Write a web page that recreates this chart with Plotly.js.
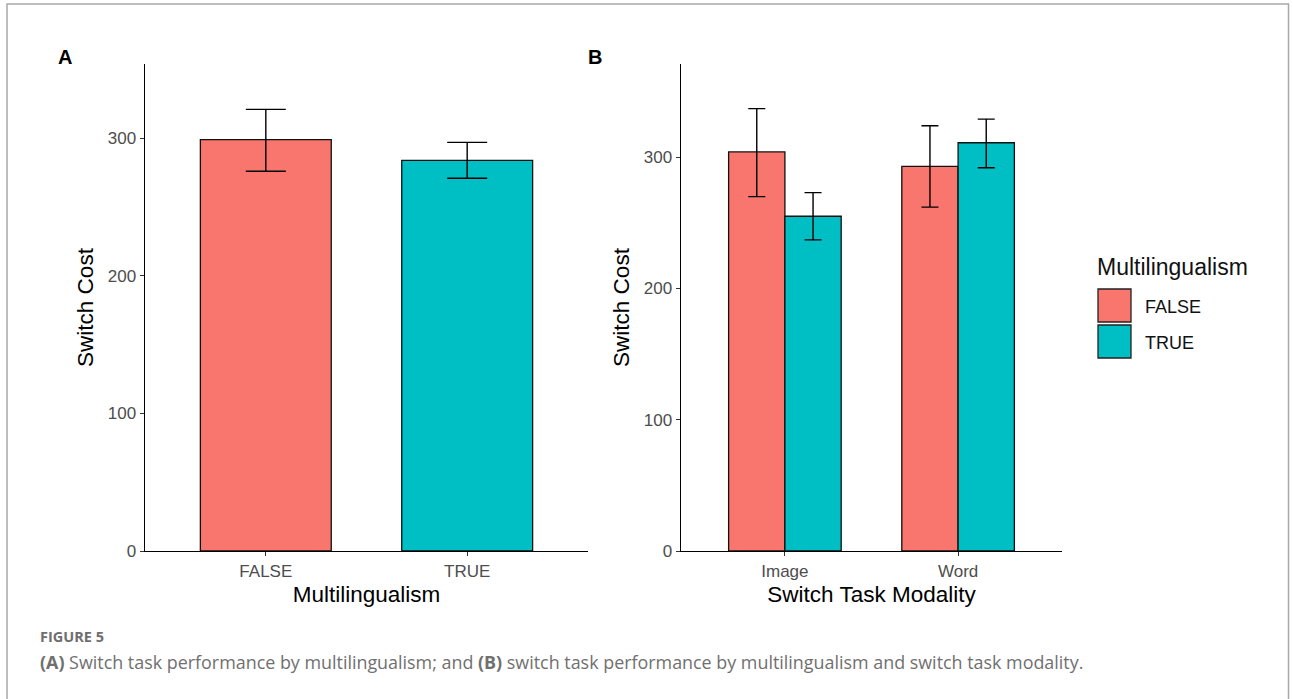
<!DOCTYPE html>
<html>
<head>
<meta charset="utf-8">
<script src="https://cdn.plot.ly/plotly-3.0.1.min.js"></script>
<style>html,body{margin:0;padding:0;background:#fff;}#chart{width:1293px;height:699px;}</style>
</head>
<body>
<div id="chart"></div>
<script>
// ---- data ----
const catsA = ['FALSE', 'TRUE'];
const valsA = [299, 284];
const upperA = [321, 297];
const lowerA = [276, 271];

const catsB = ['Image', 'Word'];
const falseB = [304, 293];
const falseUpperB = [337, 324];
const falseLowerB = [270, 262];
const trueB = [255, 311];
const trueUpperB = [273, 329];
const trueLowerB = [237, 292];

const yTicks = [0, 100, 200, 300];
const groupNames = ['FALSE', 'TRUE'];
const colFalse = '#F8766D', colTrue = '#00BFC4';

const W = 1293, H = 699;
const px = x => x / W;
const py = y => 1 - y / H;

const diff = (a, b) => a.map((v, i) => v - b[i]);

const traces = [
  {
    type: 'bar', x: catsA, y: valsA, xaxis: 'x', yaxis: 'y',
    marker: {color: [colFalse, colTrue], line: {color: '#111', width: 1.3}},
    error_y: {type: 'data', symmetric: false, array: diff(upperA, valsA), arrayminus: diff(valsA, lowerA),
              color: '#000', thickness: 1.4, width: 20},
    showlegend: false, hoverinfo: 'x+y'
  },
  {
    type: 'bar', name: groupNames[0], x: catsB, y: falseB, xaxis: 'x2', yaxis: 'y2',
    marker: {color: colFalse, line: {color: '#111', width: 1.3}},
    error_y: {type: 'data', symmetric: false, array: diff(falseUpperB, falseB), arrayminus: diff(falseB, falseLowerB),
              color: '#000', thickness: 1.4, width: 8.5},
    showlegend: false
  },
  {
    type: 'bar', name: groupNames[1], x: catsB, y: trueB, xaxis: 'x2', yaxis: 'y2',
    marker: {color: colTrue, line: {color: '#111', width: 1.3}},
    error_y: {type: 'data', symmetric: false, array: diff(trueUpperB, trueB), arrayminus: diff(trueB, trueLowerB),
              color: '#000', thickness: 1.4, width: 8.5},
    showlegend: false
  }
];

const FAM = 'Liberation Sans, Arial, sans-serif';
const axisFont = {family: FAM, size: 17, color: '#4D4D4D'};
const titleFont = {family: FAM, size: 22.5, color: '#000'};

const xBase = {
  type: 'category', range: [-0.6, 1.6], showline: true, linecolor: '#000', linewidth: 1.4,
  ticks: 'outside', ticklen: 4, tickcolor: '#333', tickfont: axisFont, showgrid: false, zeroline: false,
  fixedrange: true
};
const yBase = {
  tickvals: yTicks, showline: true, linecolor: '#000', linewidth: 1.4,
  ticks: 'outside', ticklen: 4, tickcolor: '#333', tickfont: axisFont, showgrid: false, zeroline: false,
  fixedrange: true
};

const shapes = [
  // figure frame
  {type: 'rect', xref: 'paper', yref: 'paper', x0: px(7), x1: px(1288.5), y0: py(705), y1: py(4),
   line: {color: '#A8A8A8', width: 1.5}, fillcolor: 'rgba(0,0,0,0)'},
  // legend keys
  {type: 'rect', xref: 'paper', yref: 'paper', x0: px(1098), x1: px(1131), y0: py(322), y1: py(289),
   fillcolor: colFalse, line: {color: '#222', width: 1.3}},
  {type: 'rect', xref: 'paper', yref: 'paper', x0: px(1098), x1: px(1131), y0: py(358), y1: py(325),
   fillcolor: colTrue, line: {color: '#222', width: 1.3}}
];

const ann = (text, x, y, opts) => Object.assign({
  text, xref: 'paper', yref: 'paper', x: px(x), y: py(y), showarrow: false,
  xanchor: 'left', yanchor: 'middle'
}, opts || {});

const annotations = [
  ann('<b>A</b>', 65, 57, {xanchor: 'center', font: {family: FAM, size: 20, color: '#000'}}),
  ann('<b>B</b>', 595, 57, {xanchor: 'center', font: {family: FAM, size: 20, color: '#000'}}),
  ann('Multilingualism', 1095, 267, {font: {family: FAM, size: 23, color: '#111'}}),
  ann(groupNames[0], 1143, 307, {font: {family: FAM, size: 18, color: '#111'}}),
  ann(groupNames[1], 1143, 343, {font: {family: FAM, size: 18, color: '#111'}}),
  ann('<b>FIGURE 5</b>', 38, 636, {font: {family: 'Open Sans, sans-serif', size: 14.5, color: '#6E6E6E'}}),
  ann('<b>(A)</b> Switch task performance by multilingualism; and <b>(B)</b> switch task performance by multilingualism and switch task modality.',
      38, 662, {font: {family: 'Open Sans, sans-serif', size: 17.9, color: '#707070'}})
];

const layout = {
  width: W, height: H, margin: {l: 0, r: 0, t: 0, b: 0},
  paper_bgcolor: '#fff', plot_bgcolor: '#fff',
  barmode: 'group', bargap: 0.35, bargroupgap: 0,
  showlegend: false,
  xaxis: Object.assign({}, xBase, {domain: [px(145), px(588)], anchor: 'y',
    title: {text: 'Multilingualism', font: titleFont, standoff: 6}}),
  yaxis: Object.assign({}, yBase, {domain: [py(551), py(64)], range: [0, 354], anchor: 'x',
    title: {text: 'Switch Cost', font: titleFont, standoff: 8}}),
  xaxis2: Object.assign({}, xBase, {domain: [px(681), px(1062)], anchor: 'y2',
    title: {text: 'Switch Task Modality', font: titleFont, standoff: 6}}),
  yaxis2: Object.assign({}, yBase, {domain: [py(551), py(64)], range: [0, 371], anchor: 'x2',
    title: {text: 'Switch Cost', font: titleFont, standoff: 8}}),
  shapes, annotations
};

Plotly.newPlot('chart', traces, layout, {displayModeBar: false, staticPlot: true});
</script>
</body>
</html>
